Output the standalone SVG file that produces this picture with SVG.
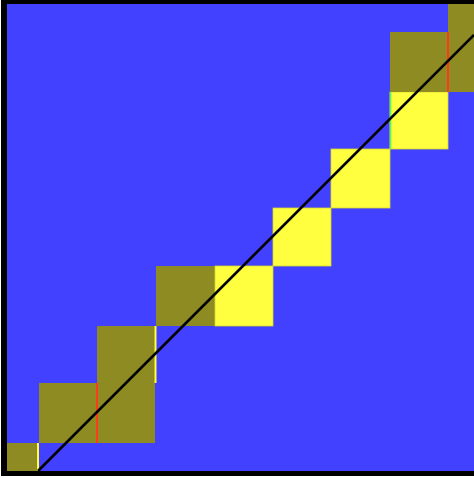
<svg xmlns="http://www.w3.org/2000/svg" width="474" height="478" viewBox="0 0 474 478">
  <style>
    .olive { fill: #8e8b23; }
    .yellow { fill: #ffff3f; stroke: #d8d830; stroke-width: 0.8; }
    .red { stroke: #ff3b1e; stroke-width: 2; }
    .lyel { stroke: #ffff3f; stroke-width: 2; }
    .green { stroke: #4cff4c; stroke-width: 1.5; }
  </style>
  <rect x="0" y="0" width="474" height="478" fill="#ffffff"/>
  <rect x="1" y="0" width="473" height="476" fill="#000000"/>
  <rect x="7" y="4" width="467" height="467" fill="#4141ff"/>
  <g id="cells">
    <rect class="olive" x="7" y="443" width="31" height="28"/>
    <rect class="olive" x="39" y="383" width="58" height="60"/>
    <rect class="olive" x="97" y="326" width="58" height="117"/>
    <rect class="olive" x="156" y="266" width="59" height="60"/>
    <rect class="yellow" x="215" y="266" width="58" height="60"/>
    <rect class="yellow" x="273" y="208" width="58" height="58"/>
    <rect class="yellow" x="331" y="149" width="59" height="59"/>
    <rect class="yellow" x="390" y="92" width="58" height="57"/>
    <rect class="olive" x="390" y="32" width="58" height="60"/>
    <rect class="olive" x="448" y="4" width="26" height="88"/>
  </g>
  <g id="edges">
    <line class="lyel" x1="38" y1="443" x2="38" y2="471"/>
    <line class="red" x1="97" y1="383" x2="97" y2="443"/>
    <line class="lyel" x1="155.5" y1="326" x2="155.5" y2="383"/>
    <line class="green" x1="390.5" y1="92" x2="390.5" y2="149"/>
    <line class="red" x1="448" y1="32" x2="448" y2="92"/>
  </g>
  <line x1="38" y1="471" x2="474" y2="35" stroke="#000000" stroke-width="2.6"/>
</svg>
